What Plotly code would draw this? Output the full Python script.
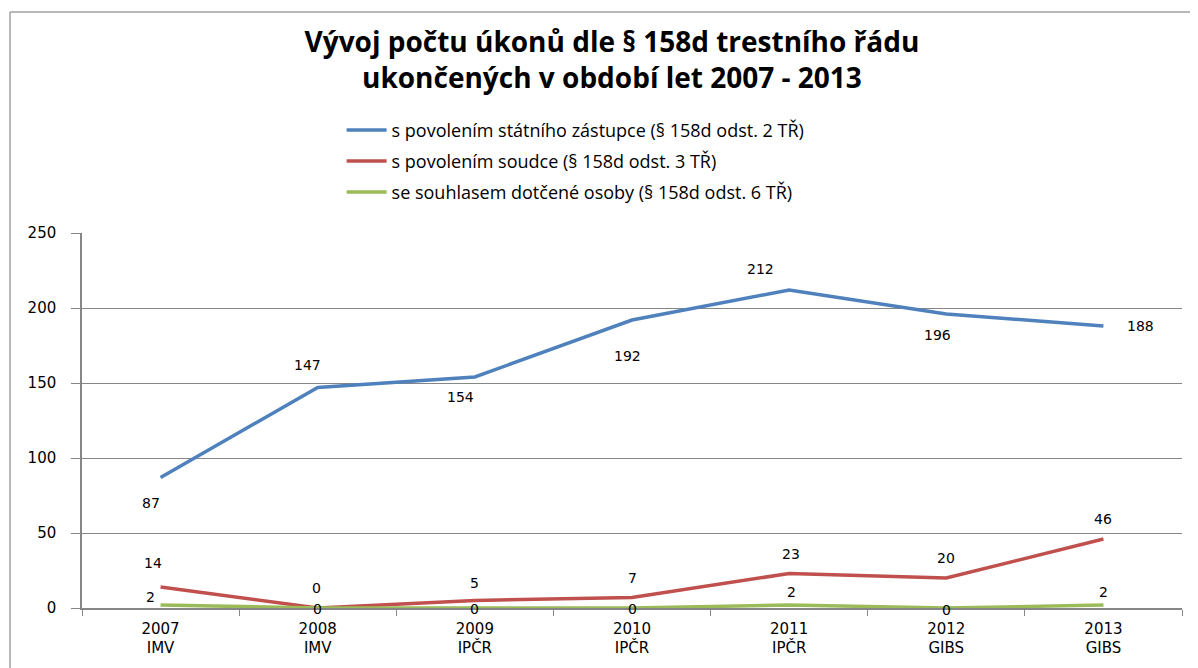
import plotly.graph_objects as go

categories = ["2007<br>IMV", "2008<br>IMV", "2009<br>IPČR", "2010<br>IPČR", "2011<br>IPČR", "2012<br>GIBS", "2013<br>GIBS"]
series_names = [
    "s povolením státního zástupce (§ 158d odst. 2 TŘ)",
    "s povolením soudce (§ 158d odst. 3 TŘ)",
    "se souhlasem dotčené osoby (§ 158d odst. 6 TŘ)",
]
zastupce = [87, 147, 154, 192, 212, 196, 188]
soudce = [14, 0, 5, 7, 23, 20, 46]
souhlas = [2, 0, 0, 0, 2, 0, 2]
y_ticks = [0, 50, 100, 150, 200, 250]

# label offsets in pixels (dx right, dy up) - styling only
blue_off = [(-10, -25), (-10, 23), (-14, -20), (-5, -36), (-29, 21), (-9, -21), (37, 0)]
red_off = [(-8, 24), (-1, 20), (0, 18), (0, 20), (2, 20), (0, 20), (0, 20)]
green_off = [(-10, 8), (0, -1), (0, -1), (0, -1), (2, 13), (0, -2), (0, 13)]

colors = ["#4F81BD", "#C0504D", "#9BBB59"]
label_font = dict(family="DejaVu Sans, Verdana, sans-serif", size=14, color="#000000")
human = "Open Sans, Lato, sans-serif"

fig = go.Figure()
annotations = []
for i, (name, vals, col, offs) in enumerate([
    (series_names[0], zastupce, colors[0], blue_off),
    (series_names[1], soudce, colors[1], red_off),
    (series_names[2], souhlas, colors[2], green_off),
]):
    fig.add_trace(go.Scatter(
        x=categories, y=vals, name=name, mode="lines",
        line=dict(color=col, width=3.5), legendgroup=f"g{i}",
    ))
    for c, v, (dx, dy) in zip(categories, vals, offs):
        annotations.append(dict(
            x=c, y=v, xref="x", yref="y", text=str(v), showarrow=False,
            xshift=dx, yshift=dy, font=label_font,
        ))

fig.update_layout(
    width=1190, height=660,
    margin=dict(l=74, r=16, t=225, b=60),
    paper_bgcolor="white", plot_bgcolor="white",
    title=dict(
        text="Vývoj počtu úkonů dle § 158d trestního řádu<br>ukončených v období let 2007 - 2013",
        x=0.5075, xanchor="center", y=0.934, yanchor="middle",
        font=dict(family=human, size=28, color="#000000", weight="bold"),
    ),
    legend=dict(
        x=0.236, xanchor="left", y=1.323, yanchor="top",
        font=dict(family=human, size=18, color="#000000"),
        tracegroupgap=4.5, itemwidth=40, traceorder="grouped",
    ),
    annotations=annotations,
    showlegend=True,
)
fig.update_xaxes(
    type="category", range=[-0.5, 6.5], tickson="boundaries",
    ticks="outside", ticklen=6, tickcolor="#868686",
    showline=True, linecolor="#868686", linewidth=1.5,
    showgrid=False, ticklabelstandoff=6,
    tickfont=dict(family="DejaVu Sans, Verdana, sans-serif", size=15, color="#000000"),
)
fig.update_yaxes(
    range=[0, 250], tickvals=y_ticks, showgrid=True, gridcolor="#868686", gridwidth=1,
    showline=True, linecolor="#868686", linewidth=1.5,
    ticks="outside", ticklen=9, tickcolor="#868686",
    zeroline=False, ticklabelstandoff=12,
    tickfont=dict(family="DejaVu Sans, Verdana, sans-serif", size=15, color="#000000"),
)
# outer chart border
fig.add_shape(type="line", xref="paper", yref="paper", x0=-0.06545, x1=-0.06545, y0=-0.2, y1=1.5893,
              line=dict(color="#A0A0A0", width=1.5))
fig.add_shape(type="line", xref="paper", yref="paper", x0=-0.06545, x1=1.1, y0=1.5893, y1=1.5893,
              line=dict(color="#A0A0A0", width=1.5))

fig.write_html("out.html")
